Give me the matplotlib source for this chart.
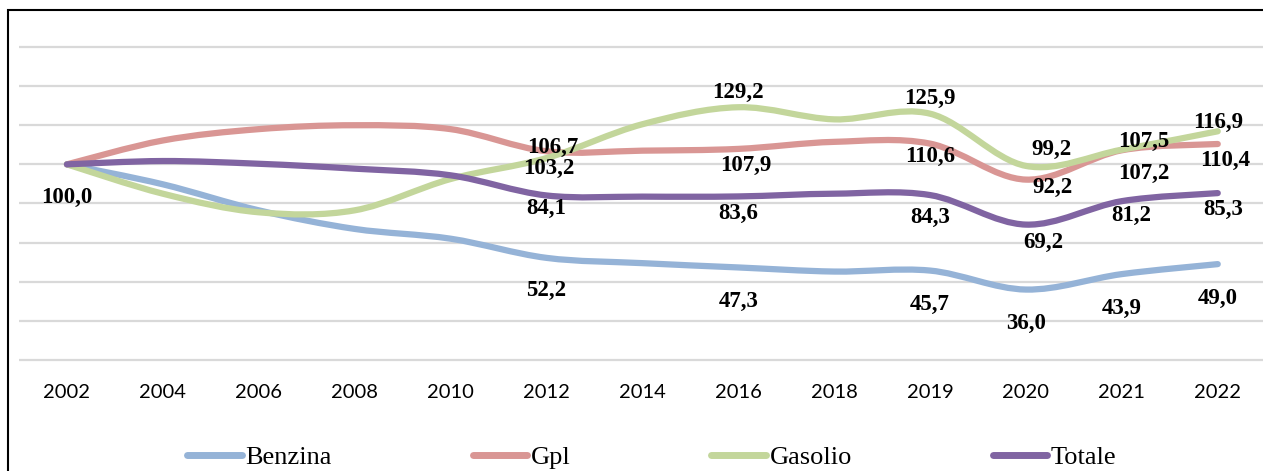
import matplotlib
matplotlib.use('Agg')
import matplotlib.pyplot as plt
from matplotlib.path import Path
from matplotlib.patches import PathPatch, Rectangle
from matplotlib.lines import Line2D

# Dati (indice 2002 = 100)
anni = ['2002', '2004', '2006', '2008', '2010', '2012', '2014',
        '2016', '2018', '2019', '2020', '2021', '2022']
benzina = [100.0, 89.8, 76.5, 67.0, 62.0, 52.2, 49.5, 47.3, 45.2, 45.7, 36.0, 43.9, 49.0]
gpl = [100.0, 112.2, 118.0, 120.0, 118.0, 106.7, 107.0, 107.9, 111.5, 110.6, 92.2, 107.2, 110.4]
gasolio = [100.0, 85.0, 75.5, 76.5, 92.5, 103.2, 120.5, 129.2, 123.0, 125.9, 99.2, 107.5, 116.9]
totale = [100.0, 101.7, 100.3, 97.8, 94.4, 84.1, 83.5, 83.6, 85.0, 84.3, 69.2, 81.2, 85.3]

nomi = ['Benzina', 'Gpl', 'Gasolio', 'Totale']
serie = [benzina, gpl, gasolio, totale]
colori = ['#95B3D7', '#D99694', '#C3D69B', '#8064A2']

# punti con etichetta e spostamento dell'etichetta (pixel)
idx_etichette = {
    'Benzina': [0, 5, 7, 9, 10, 11, 12],
    'Gpl': [5, 7, 9, 10, 11, 12],
    'Gasolio': [5, 7, 9, 10, 11, 12],
    'Totale': [5, 7, 9, 10, 11, 12],
}
offset_etichette = {
    'Benzina': [(0, -33), (0, -33), (0, -34), (0, -34), (0, -34), (0, -34), (0, -34)],
    'Gpl': [(6, 4), (8, -17), (0, -13), (27, -8), (22, -23), (7, -16)],
    'Gasolio': [(2, -10), (0, 15), (0, 15), (26, 16), (22, 8), (0, 9)],
    'Totale': [(0, -13), (0, -17), (0, -22), (17, -18), (9, -14), (5, -16)],
}


def curva_liscia(x, y):
    # linea smussata tipo Excel: bezier cubiche (Catmull-Rom)
    pts = list(zip(x, y))
    n = len(pts)
    verts = [pts[0]]
    codes = [Path.MOVETO]
    for i in range(n - 1):
        p0 = pts[max(i - 1, 0)]
        p1 = pts[i]
        p2 = pts[i + 1]
        p3 = pts[min(i + 2, n - 1)]
        c1 = (p1[0] + (p2[0] - p0[0]) / 6, p1[1] + (p2[1] - p0[1]) / 6)
        c2 = (p2[0] - (p3[0] - p1[0]) / 6, p2[1] - (p3[1] - p1[1]) / 6)
        verts += [c1, c2, p2]
        codes += [Path.CURVE4] * 3
    return Path(verts, codes)


fig = plt.figure(figsize=(12.63, 4.71), dpi=100)
ax = fig.add_axes([19 / 1263, 0.2108, 1246.7 / 1263, 0.7393])
ax.set_xlim(-0.5, 12.5)
ax.set_ylim(-6, 172)

x = list(range(len(anni)))
for nome, valori, col in zip(nomi, serie, colori):
    patch = PathPatch(curva_liscia(x, valori), fill=False, edgecolor=col,
                      lw=4.5, capstyle='round', joinstyle='round', zorder=3)
    ax.add_patch(patch)

for nome, valori in zip(nomi, serie):
    for i, (dx, dy) in zip(idx_etichette[nome], offset_etichette[nome]):
        testo = f'{valori[i]:.1f}'.replace('.', ',')
        ax.annotate(testo, (i, valori[i]), xytext=(dx, dy), textcoords='offset pixels',
                    ha='center', va='center', fontsize=16.5, fontweight='bold',
                    family='Liberation Serif', color='black', zorder=5,
                    annotation_clip=False)

ax.set_yticks(range(0, 161, 20))
ax.yaxis.grid(True, color='#d9d9d9', lw=1.6)
ax.set_axisbelow(True)
ax.tick_params(axis='y', length=0, labelleft=False)
ax.set_xticks(x)
ax.set_xticklabels(anni, family='Lato', fontsize=14.5)
ax.tick_params(axis='x', length=0, pad=9)
for s in ax.spines.values():
    s.set_visible(False)

handles = [Line2D([], [], color=c, lw=5, solid_capstyle='round') for c in colori]
fig.legend(handles, nomi, loc='center', bbox_to_anchor=(652 / 1263, 14 / 471),
           ncol=4, frameon=False, prop={'family': 'Liberation Serif', 'size': 19},
           handlelength=2.06, handletextpad=0.15, columnspacing=5.33, borderpad=0)

# cornice del grafico
fig.add_artist(Rectangle((8 / 1263, -0.1), 1.2, (471 - 10) / 471 + 0.1,
                         transform=fig.transFigure, fill=False, ec='black', lw=1.5))

fig.savefig('out.png', dpi=100)
